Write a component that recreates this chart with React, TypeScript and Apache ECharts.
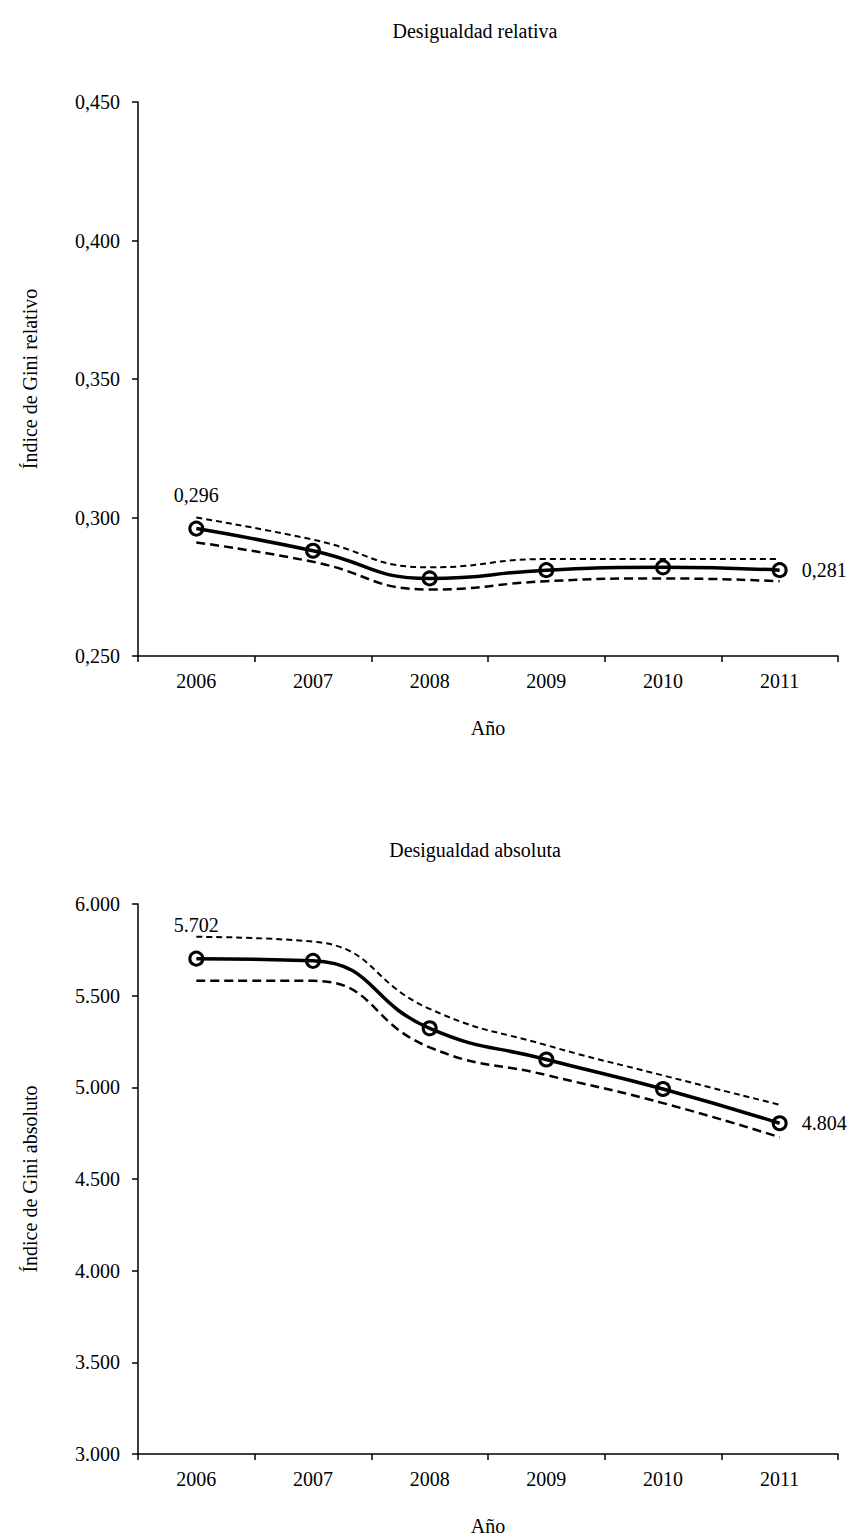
import { useEffect, useRef } from "react";
import * as echarts from "echarts";

// Years on the horizontal axis
const years = ["2006", "2007", "2008", "2009", "2010", "2011"];

// Relative Gini index with its confidence band
const relGini = [0.296, 0.288, 0.278, 0.281, 0.282, 0.281];
const relUpper = [0.3, 0.292, 0.282, 0.285, 0.285, 0.285];
const relLower = [0.291, 0.284, 0.274, 0.277, 0.278, 0.277];

// Absolute Gini index with its confidence band
const absGini = [5702, 5690, 5322, 5152, 4991, 4804];
const absUpper = [5821, 5795, 5428, 5230, 5065, 4905];
const absLower = [5581, 5581, 5218, 5067, 4914, 4728];

// Value-axis ranges
const relAxis = { min: 0.25, max: 0.45, interval: 0.05 };
const absAxis = { min: 3000, max: 6000, interval: 500 };

const FONT = "'Liberation Serif', 'Times New Roman', serif";
const FS = 20;

const fmtRel = (v: number) => v.toFixed(3).replace(".", ",");
const fmtAbs = (v: number) =>
  String(Math.round(v)).replace(/\B(?=(\d{3})+(?!\d))/g, ".");

function withEndLabels(values: number[], fmt: (v: number) => string) {
  const last = values.length - 1;
  return values.map((v, i) => {
    if (i === 0) {
      return {
        value: v,
        label: { show: true, position: "top", distance: 16, formatter: () => fmt(v) },
      };
    }
    if (i === last) {
      return {
        value: v,
        label: { show: true, position: "right", distance: 14, formatter: () => fmt(v) },
      };
    }
    return v;
  });
}

export default function App() {
  const ref = useRef<HTMLDivElement>(null);

  useEffect(() => {
    document.body.style.margin = "0";
    if (!ref.current) return;
    const chart = echarts.init(ref.current, undefined, { renderer: "svg" });

    const textStyle = { fontFamily: FONT, fontSize: FS, color: "#000" };
    const axisLine = { show: true, onZero: false, lineStyle: { color: "#000", width: 1.5 } };
    const axisTick = { show: true, inside: false, length: 6, lineStyle: { color: "#000", width: 1.5 } };

    const xAxis = (gridIndex: number) => ({
      type: "category",
      gridIndex,
      data: years,
      boundaryGap: true,
      axisLine,
      axisTick: { ...axisTick, alignWithLabel: false },
      axisLabel: { ...textStyle, margin: 15 },
      name: "Año",
      nameLocation: "middle",
      nameGap: 62,
      nameTextStyle: textStyle,
      splitLine: { show: false },
    });

    const yAxis = (
      gridIndex: number,
      range: { min: number; max: number; interval: number },
      name: string,
      fmt: (v: number) => string
    ) => ({
      type: "value",
      gridIndex,
      min: range.min,
      max: range.max,
      interval: range.interval,
      axisLine,
      axisTick,
      axisLabel: { ...textStyle, margin: 18, formatter: fmt },
      splitLine: { show: false },
      name,
      nameLocation: "middle",
      nameRotate: 90,
      nameGap: 98,
      nameTextStyle: textStyle,
    });

    const mainLine = (idx: number, values: number[], fmt: (v: number) => string) => ({
      type: "line",
      xAxisIndex: idx,
      yAxisIndex: idx,
      data: withEndLabels(values, fmt),
      smooth: true,
      symbol: "circle",
      symbolSize: 13,
      showSymbol: true,
      itemStyle: { color: "rgba(255,255,255,0)", borderColor: "#000", borderWidth: 3 },
      lineStyle: { color: "#000", width: 3.5 },
      label: { ...textStyle },
      z: 3,
    });

    const band = (idx: number, values: number[], width: number, dash: number[]) => ({
      type: "line",
      xAxisIndex: idx,
      yAxisIndex: idx,
      data: values,
      smooth: true,
      symbol: "none",
      lineStyle: { color: "#000", width, type: dash },
      z: 2,
    });

    chart.setOption({
      animation: false,
      backgroundColor: "#fff",
      title: [
        {
          text: "Desigualdad relativa",
          left: 470,
          top: 16,
          textAlign: "center",
          textStyle: { ...textStyle, fontWeight: "normal" },
        },
        {
          text: "Desigualdad absoluta",
          left: 470,
          top: 835,
          textAlign: "center",
          textStyle: { ...textStyle, fontWeight: "normal" },
        },
      ],
      grid: [
        { left: 138, top: 102, width: 700, height: 554 },
        { left: 138, top: 904, width: 700, height: 552 },
      ],
      xAxis: [xAxis(0), xAxis(1)],
      yAxis: [
        yAxis(0, relAxis, "Índice de Gini relativo", fmtRel),
        yAxis(1, absAxis, "Índice de Gini absoluto", fmtAbs),
      ],
      series: [
        band(0, relUpper, 2, [6, 4]),
        band(0, relLower, 2.5, [9, 5]),
        mainLine(0, relGini, fmtRel),
        band(1, absUpper, 2, [6, 4]),
        band(1, absLower, 2.5, [9, 5]),
        mainLine(1, absGini, fmtAbs),
      ],
    });

    return () => chart.dispose();
  }, []);

  return <div ref={ref} style={{ width: 850, height: 1537 }} />;
}
